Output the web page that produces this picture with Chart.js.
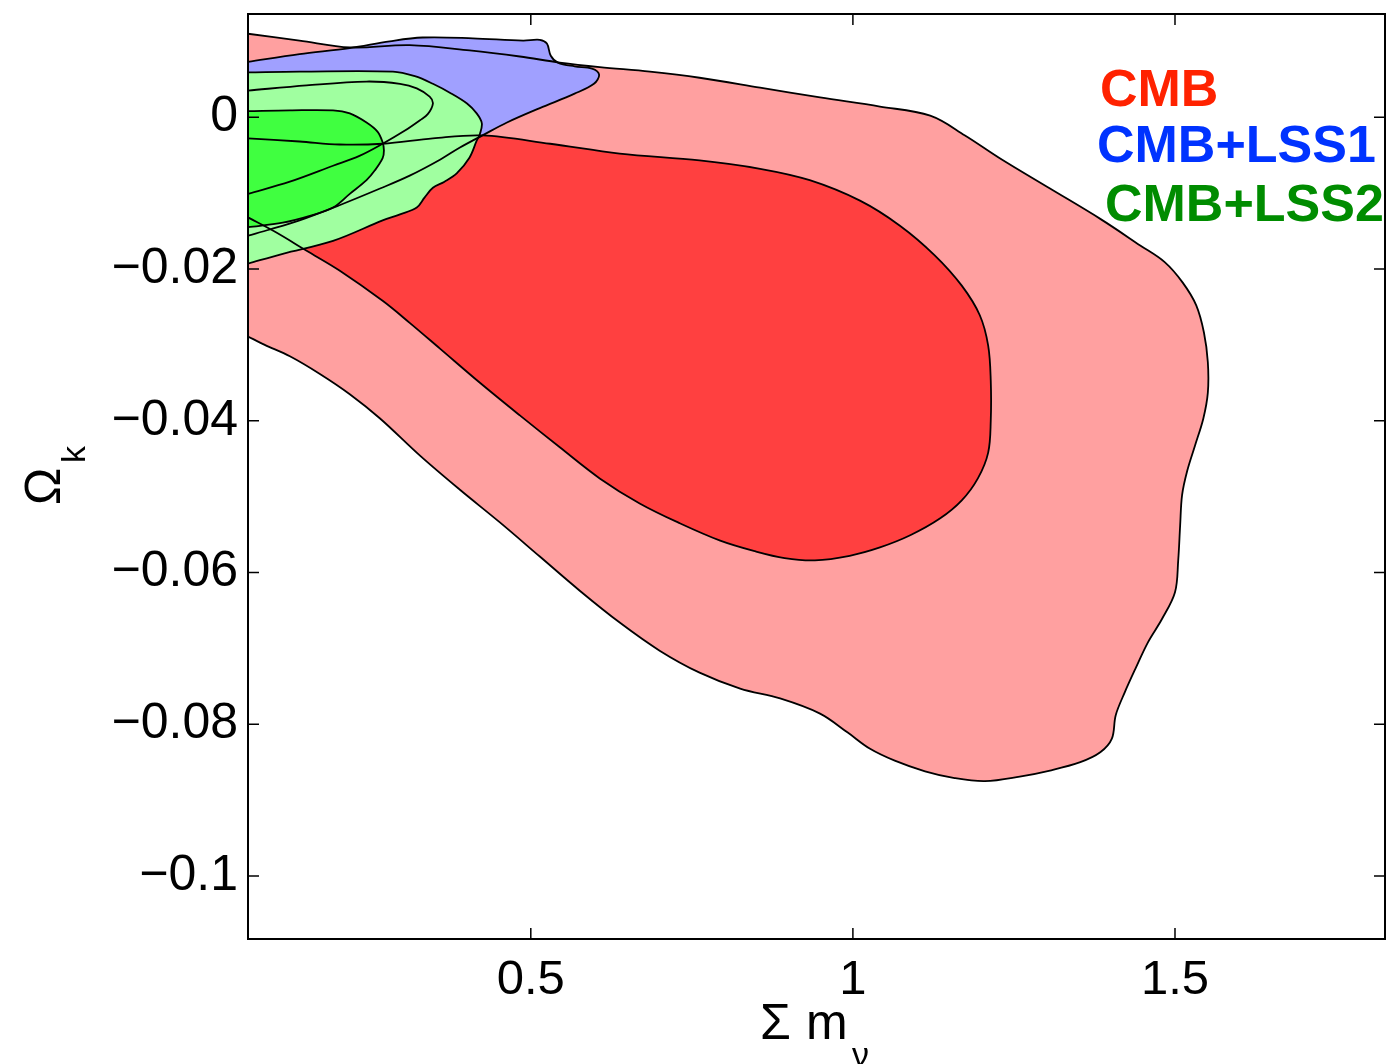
<!DOCTYPE html>
<html>
<head>
<meta charset="utf-8">
<script src="https://cdn.jsdelivr.net/npm/chart.js@4/dist/chart.umd.min.js"></script>
<style>
html,body{margin:0;padding:0;background:#fff;}
canvas{display:block;}
</style>
</head>
<body>
<canvas id="c" width="1389" height="1064"></canvas>
<script>
// Joint constraints on the summed neutrino mass and spatial curvature:
// 68% and 95% confidence contours for three data combinations.

const xTicks = [0.5, 1, 1.5];
const xTickLabels = ['0.5', '1', '1.5'];
const yTicks = [-0.1, -0.08, -0.06, -0.04, -0.02, 0];
const yTickLabels = ['\u22120.1', '\u22120.08', '\u22120.06', '\u22120.04', '\u22120.02', '0'];
const xRange = [0.061, 1.826];
const yRange = [-0.1083, 0.0136];

const seriesNames = ['CMB', 'CMB+LSS1', 'CMB+LSS2'];

// Contour outlines as [sum m_nu, Omega_k] pairs
const cmb95 = [[0.061,0.0110],[0.141,0.0101],[0.219,0.0092],[0.312,0.0095],[0.405,0.0088],[0.483,0.0080],[0.545,0.0072],[0.607,0.0066],[0.685,0.0060],[0.762,0.0052],[0.856,0.0039],[0.949,0.0026],[1.042,0.0014],[1.120,0.0002],[1.174,-0.0024],[1.228,-0.0054],[1.306,-0.0094],[1.384,-0.0134],[1.446,-0.0169],[1.484,-0.0191],[1.512,-0.0218],[1.533,-0.0248],[1.545,-0.0284],[1.551,-0.0323],[1.551,-0.0363],[1.544,-0.0397],[1.531,-0.0433],[1.519,-0.0466],[1.511,-0.0498],[1.508,-0.0538],[1.505,-0.0584],[1.500,-0.0626],[1.480,-0.0661],[1.458,-0.0692],[1.439,-0.0726],[1.422,-0.0758],[1.408,-0.0788],[1.402,-0.0819],[1.384,-0.0837],[1.353,-0.0850],[1.306,-0.0861],[1.259,-0.0869],[1.205,-0.0875],[1.158,-0.0871],[1.112,-0.0862],[1.065,-0.0848],[1.026,-0.0832],[0.992,-0.0811],[0.949,-0.0786],[0.887,-0.0766],[0.825,-0.0753],[0.762,-0.0732],[0.700,-0.0703],[0.638,-0.0666],[0.576,-0.0624],[0.514,-0.0579],[0.452,-0.0534],[0.390,-0.0491],[0.328,-0.0446],[0.266,-0.0397],[0.219,-0.0365],[0.172,-0.0338],[0.126,-0.0315],[0.087,-0.0300],[0.061,-0.0289]];

const cmb68 = [[0.061,-0.0028],[0.141,-0.0032],[0.203,-0.0036],[0.270,-0.0035],[0.348,-0.0028],[0.425,-0.0024],[0.530,-0.0035],[0.638,-0.0048],[0.762,-0.0057],[0.856,-0.0068],[0.933,-0.0083],[1.011,-0.0110],[1.073,-0.0143],[1.127,-0.0182],[1.169,-0.0222],[1.197,-0.0261],[1.210,-0.0301],[1.214,-0.0347],[1.214,-0.0400],[1.210,-0.0442],[1.194,-0.0476],[1.169,-0.0505],[1.135,-0.0529],[1.089,-0.0551],[1.042,-0.0567],[0.995,-0.0578],[0.941,-0.0584],[0.894,-0.0581],[0.848,-0.0572],[0.794,-0.0558],[0.731,-0.0535],[0.669,-0.0509],[0.607,-0.0476],[0.545,-0.0435],[0.483,-0.0393],[0.421,-0.0350],[0.359,-0.0305],[0.312,-0.0271],[0.270,-0.0242],[0.203,-0.0202],[0.152,-0.0176],[0.103,-0.0151],[0.061,-0.0132]];

const lss1_95 = [[0.061,0.0073],[0.141,0.0083],[0.219,0.0091],[0.281,0.0100],[0.332,0.0105],[0.410,0.0104],[0.488,0.0101],[0.514,0.0102],[0.525,0.0097],[0.531,0.0081],[0.542,0.0072],[0.568,0.0067],[0.595,0.0064],[0.606,0.0056],[0.598,0.0044],[0.568,0.0031],[0.514,0.0012],[0.463,-0.0007],[0.425,-0.0024],[0.390,-0.0040],[0.359,-0.0056],[0.312,-0.0077],[0.266,-0.0094],[0.203,-0.0116],[0.141,-0.0136],[0.095,-0.0148],[0.061,-0.0156]];

const lss1_68 = [[0.061,0.0035],[0.152,0.0042],[0.245,0.0047],[0.297,0.0044],[0.323,0.0038],[0.343,0.0027],[0.348,0.0018],[0.340,0.0004],[0.328,-0.0004],[0.304,-0.0018],[0.270,-0.0035],[0.234,-0.0051],[0.193,-0.0064],[0.126,-0.0085],[0.061,-0.0101]];

const lss2_95 = [[0.061,0.0059],[0.141,0.0060],[0.286,0.0060],[0.320,0.0054],[0.348,0.0044],[0.377,0.0031],[0.401,0.0018],[0.416,0.0005],[0.424,-0.0008],[0.421,-0.0022],[0.416,-0.0031],[0.405,-0.0053],[0.385,-0.0074],[0.366,-0.0085],[0.348,-0.0093],[0.335,-0.0106],[0.323,-0.0119],[0.297,-0.0128],[0.270,-0.0136],[0.193,-0.0163],[0.115,-0.0180],[0.061,-0.0193]];

const lss2_68 = [[0.061,0.0008],[0.126,0.0009],[0.193,0.0009],[0.219,0.0005],[0.245,-0.0007],[0.262,-0.0019],[0.270,-0.0033],[0.272,-0.0044],[0.270,-0.0054],[0.258,-0.0070],[0.245,-0.0083],[0.219,-0.0101],[0.193,-0.0119],[0.157,-0.0130],[0.115,-0.0139],[0.061,-0.0145]];

const FONT = '"Liberation Sans", Arial, Helvetica, sans-serif';
const toPoints = a => a.map(p => ({x: p[0], y: p[1]}));

// filled regions, back to front
const regions = [
  {name: 'CMB 95%',      data: cmb95,   color: '#ffa0a0'},
  {name: 'CMB 68%',      data: cmb68,   color: '#ff4040'},
  {name: 'CMB+LSS1 95%', data: lss1_95, color: '#a0a0ff'},
  {name: 'CMB+LSS1 68%', data: lss1_68, color: '#4040ff'},
  {name: 'CMB+LSS2 95%', data: lss2_95, color: '#a0ffa0'},
  {name: 'CMB+LSS2 68%', data: lss2_68, color: '#40ff40'}
];

const datasets = [];
regions.forEach((r, i) => {
  datasets.push({
    label: r.name,
    data: toPoints(r.data),
    backgroundColor: r.color,
    borderWidth: 0,
    borderColor: 'rgba(0,0,0,0)',
    fill: 'shape',
    tension: 0.35,
    pointRadius: 0,
    order: regions.length - i + 1
  });
});
// contour outlines drawn over every fill
regions.forEach(r => {
  datasets.push({
    label: r.name + ' outline',
    data: toPoints(r.data),
    borderColor: '#000',
    borderWidth: 1.8,
    fill: false,
    tension: 0.35,
    pointRadius: 0,
    order: 0
  });
});

const legendItems = [
  {text: seriesNames[0], color: '#ff2200', x: 1100, y: 106},
  {text: seriesNames[1], color: '#0033ff', x: 1097, y: 162},
  {text: seriesNames[2], color: '#008c00', x: 1105, y: 221}
];

const framePlugin = {
  id: 'frame',
  afterDatasetsDraw(chart) {
    const {ctx, chartArea: a, scales: {x, y}} = chart;
    ctx.save();
    ctx.strokeStyle = '#000';
    ctx.lineWidth = 1.5;
    const L = 11;
    ctx.beginPath();
    xTicks.forEach(v => {
      const px = x.getPixelForValue(v);
      ctx.moveTo(px, a.bottom); ctx.lineTo(px, a.bottom - L);
      ctx.moveTo(px, a.top); ctx.lineTo(px, a.top + L);
    });
    yTicks.forEach(v => {
      const py = y.getPixelForValue(v);
      ctx.moveTo(a.left, py); ctx.lineTo(a.left + L, py);
      ctx.moveTo(a.right, py); ctx.lineTo(a.right - L, py);
    });
    ctx.stroke();
    ctx.lineWidth = 2;
    ctx.strokeRect(a.left, a.top, a.right - a.left, a.bottom - a.top);

    // series labels
    ctx.textAlign = 'left';
    ctx.textBaseline = 'alphabetic';
    ctx.font = 'bold 52px ' + FONT;
    legendItems.forEach(it => {
      ctx.fillStyle = it.color;
      ctx.fillText(it.text, it.x, it.y);
    });
    ctx.restore();
  },
  afterDraw(chart) {
    const {ctx} = chart;
    ctx.save();
    ctx.fillStyle = '#000';
    ctx.textAlign = 'left';
    ctx.textBaseline = 'alphabetic';
    // x-axis title: Σ m_ν
    ctx.font = '50px ' + FONT;
    ctx.fillText('\u03A3', 760, 1039);
    ctx.fillText('m', 806, 1039);
    ctx.font = '34px ' + FONT;
    ctx.fillText('\u03BD', 852, 1066);
    // y-axis title: Ω_k (rotated)
    ctx.translate(60, 505);
    ctx.rotate(-Math.PI / 2);
    ctx.font = '50px ' + FONT;
    ctx.fillText('\u03A9', 0, 0);
    ctx.font = '34px ' + FONT;
    ctx.fillText('k', 42, 25);
    ctx.restore();
  }
};

new Chart(document.getElementById('c'), {
  type: 'line',
  data: {datasets},
  options: {
    responsive: false,
    animation: false,
    events: [],
    layout: {padding: {left: 0, top: 14, right: 4, bottom: 0}},
    plugins: {legend: {display: false}, tooltip: {enabled: false}},
    scales: {
      x: {
        type: 'linear',
        min: xRange[0], max: xRange[1],
        afterBuildTicks: s => { s.ticks = xTicks.map(v => ({value: v})); },
        afterFit: s => { s.height = 125; s.paddingLeft = 0; s.paddingRight = 0; },
        ticks: {
          callback: (v, i) => xTickLabels[i],
          font: {family: FONT, size: 49},
          color: '#000', padding: 12, maxRotation: 0, autoSkip: false
        },
        grid: {display: false, drawTicks: false},
        border: {display: false}
      },
      y: {
        type: 'linear',
        min: yRange[0], max: yRange[1],
        afterBuildTicks: s => { s.ticks = yTicks.map(v => ({value: v})); },
        afterFit: s => { s.width = 248; s.paddingTop = 0; s.paddingBottom = 0; },
        ticks: {
          callback: (v, i) => yTickLabels[i],
          font: {family: FONT, size: 50},
          color: '#000', padding: 10, autoSkip: false
        },
        grid: {display: false, drawTicks: false},
        border: {display: false}
      }
    }
  },
  plugins: [framePlugin]
});
</script>
</body>
</html>
